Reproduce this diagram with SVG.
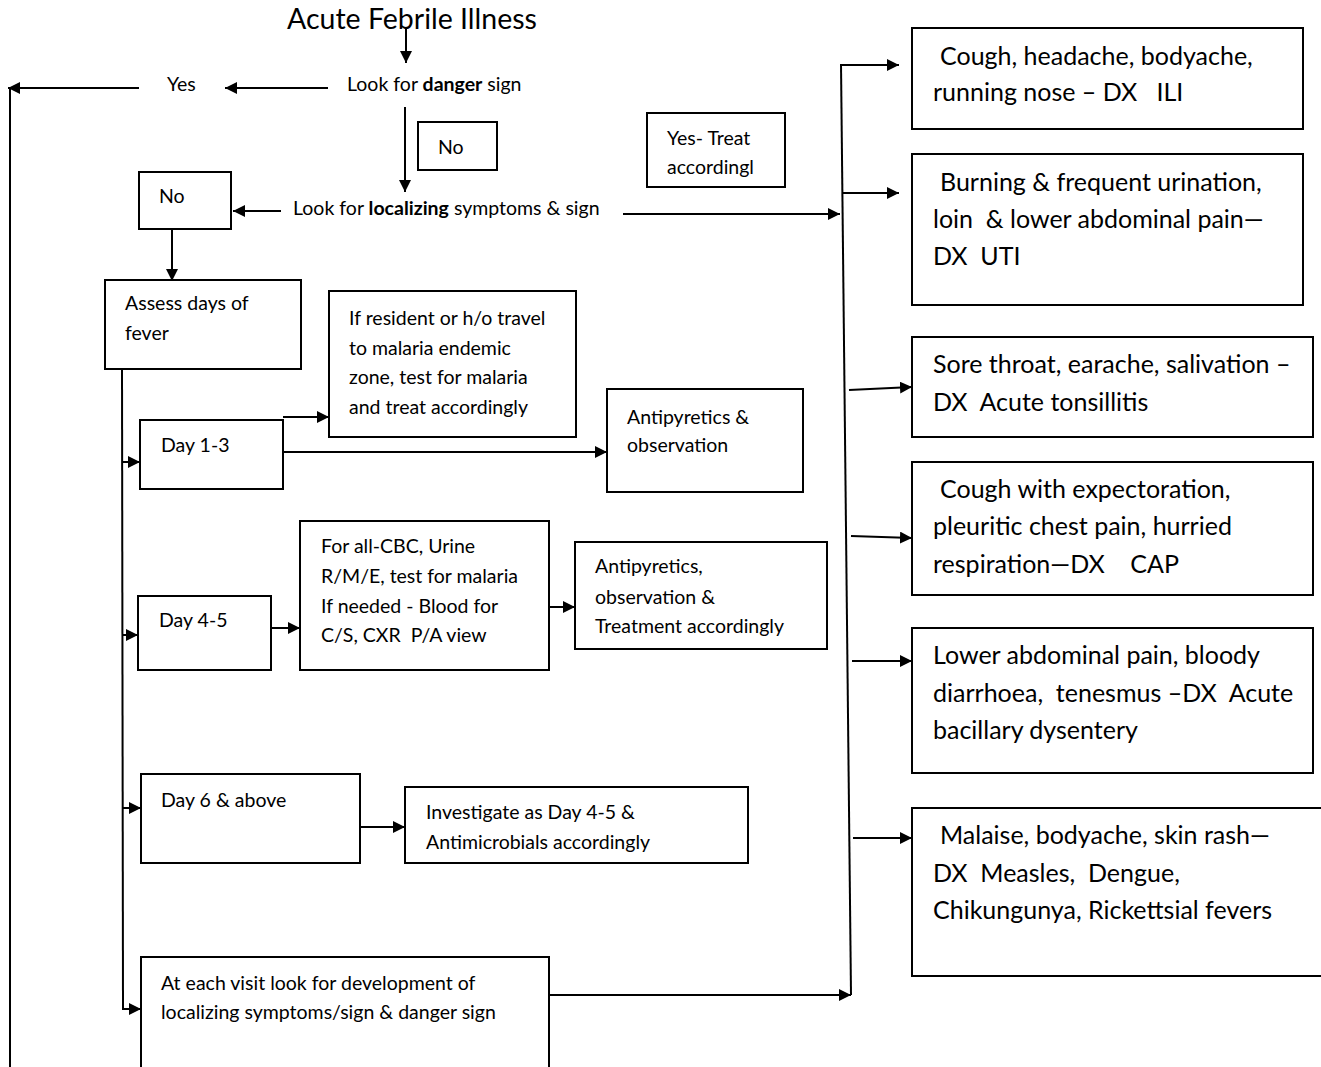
<svg xmlns="http://www.w3.org/2000/svg" width="1321" height="1067" viewBox="0 0 1321 1067">
<defs>
<marker id="ah" markerUnits="userSpaceOnUse" markerWidth="13" markerHeight="12" refX="12" refY="6" orient="auto">
<path d="M0,0 L12,6 L0,12 z" fill="#000"/>
</marker>
<style>
.box{fill:#fff;stroke:#000;stroke-width:2}
.t{font-family:Lato,"Liberation Sans",sans-serif;font-size:19.5px;fill:#000}
.tl{font-family:Lato,"Liberation Sans",sans-serif;font-size:25px;fill:#000}
.ti{font-family:Lato,"Liberation Sans",sans-serif;font-size:28.5px;fill:#000}
.c{fill:none;stroke:#000;stroke-width:2}
.a{fill:none;stroke:#000;stroke-width:2;marker-end:url(#ah)}
</style>
</defs>
<rect width="1321" height="1067" fill="#fff"/>

<g id="connectors">
<path class="a" d="M406,28 V63"/>
<path class="a" d="M328,88 H225"/>
<path class="a" d="M139,88 H8"/>
<path class="c" d="M10,88 V1067"/>
<path class="a" d="M405,107 V192"/>
<path class="a" d="M281,211 H233"/>
<path class="a" d="M623,214 H840"/>
<path class="a" d="M172,229 V281"/>
<path class="c" d="M122,369 L123,1010"/>
<path class="a" d="M122,462 H140"/>
<path class="a" d="M122,635 H138"/>
<path class="a" d="M123,808 H141"/>
<path class="a" d="M123,1009 H141"/>
<path class="a" d="M283,417 H329"/>
<path class="a" d="M283,452 H607"/>
<path class="a" d="M271,628 H300"/>
<path class="a" d="M549,607 H575"/>
<path class="a" d="M360,827 H405"/>
<path class="a" d="M549,995 H851"/>
<path class="c" d="M841,64 L851,995"/>
<path class="a" d="M841,65 H899"/>
<path class="a" d="M842,193 H899"/>
<path class="a" d="M849,390 L912,387"/>
<path class="a" d="M851,536 L912,538"/>
<path class="a" d="M852,661 H912"/>
<path class="a" d="M853,838 H912"/>
</g>

<g id="title"><text class="ti" x="287" y="29">Acute Febrile Illness</text></g>
<g id="danger"><text class="t" x="347" y="91">Look for <tspan font-weight="bold">danger</tspan> sign</text></g>
<g id="yes"><text class="t" x="167" y="91">Yes</text></g>
<g id="no1"><rect class="box" x="418" y="122" width="79" height="48"/><text class="t" x="438" y="154">No</text></g>
<g id="yestreat"><rect class="box" x="647" y="113" width="138" height="74"/><text class="t" x="667" y="145">Yes- Treat</text><text class="t" x="667" y="174">accordingl</text></g>
<g id="no2"><rect class="box" x="139" y="172" width="92" height="57"/><text class="t" x="159" y="203">No</text></g>
<g id="localizing"><text class="t" x="293" y="215">Look for <tspan font-weight="bold">localizing</tspan> symptoms &amp; sign</text></g>
<g id="assess"><rect class="box" x="105" y="280" width="196" height="89"/><text class="t" x="125" y="310">Assess days of</text><text class="t" x="125" y="340">fever</text></g>
<g id="malaria"><rect class="box" x="329" y="291" width="247" height="146"/><text class="t" x="349" y="325">If resident or h/o travel</text><text class="t" x="349" y="355">to malaria endemic</text><text class="t" x="349" y="384">zone, test for malaria</text><text class="t" x="349" y="414">and treat accordingly</text></g>
<g id="day13"><rect class="box" x="140" y="420" width="143" height="69"/><text class="t" x="161" y="452">Day 1-3</text></g>
<g id="antip1"><rect class="box" x="607" y="389" width="196" height="103"/><text class="t" x="627" y="424">Antipyretics &amp;</text><text class="t" x="627" y="452">observation</text></g>
<g id="day45"><rect class="box" x="138" y="596" width="133" height="74"/><text class="t" x="159" y="627">Day 4-5</text></g>
<g id="cbc"><rect class="box" x="300" y="521" width="249" height="149"/><text class="t" x="321" y="553">For all-CBC, Urine</text><text class="t" x="321" y="583">R/M/E, test for malaria</text><text class="t" x="321" y="613">If needed - Blood for</text><text class="t" x="321" y="642" xml:space="preserve">C/S, CXR  P/A view</text></g>
<g id="antip2"><rect class="box" x="575" y="542" width="252" height="107"/><text class="t" x="595" y="573">Antipyretics,</text><text class="t" x="595" y="604">observation &amp;</text><text class="t" x="595" y="633">Treatment accordingly</text></g>
<g id="day6"><rect class="box" x="141" y="774" width="219" height="89"/><text class="t" x="161" y="807">Day 6 &amp; above</text></g>
<g id="investigate"><rect class="box" x="405" y="787" width="343" height="76"/><text class="t" x="426" y="819">Investigate as Day 4-5 &amp;</text><text class="t" x="426" y="849">Antimicrobials accordingly</text></g>
<g id="eachvisit"><rect class="box" x="141" y="957" width="408" height="120"/><text class="t" x="161" y="990">At each visit look for development of</text><text class="t" x="161" y="1019">localizing symptoms/sign &amp; danger sign</text></g>

<g id="ili"><rect class="box" x="912" y="28" width="391" height="101"/><text class="tl" x="940" y="65">Cough, headache, bodyache,</text><text class="tl" x="933" y="101" xml:space="preserve">running nose – DX   ILI</text></g>
<g id="uti"><rect class="box" x="912" y="154" width="391" height="151"/><text class="tl" x="940" y="191">Burning &amp; frequent urination,</text><text class="tl" x="933" y="228" xml:space="preserve">loin  &amp; lower abdominal pain—</text><text class="tl" x="933" y="265" xml:space="preserve">DX  UTI</text></g>
<g id="tonsil"><rect class="box" x="912" y="337" width="401" height="100"/><text class="tl" x="933" y="373">Sore throat, earache, salivation –</text><text class="tl" x="933" y="411" xml:space="preserve">DX  Acute tonsillitis</text></g>
<g id="cap"><rect class="box" x="912" y="462" width="401" height="133"/><text class="tl" x="940" y="498">Cough with expectoration,</text><text class="tl" x="933" y="535">pleuritic chest pain, hurried</text><text class="tl" x="933" y="573" xml:space="preserve">respiration—DX    CAP</text></g>
<g id="dysentery"><rect class="box" x="912" y="628" width="401" height="145"/><text class="tl" x="933" y="664">Lower abdominal pain, bloody</text><text class="tl" x="933" y="702" xml:space="preserve">diarrhoea,  tenesmus –DX  Acute</text><text class="tl" x="933" y="739">bacillary dysentery</text></g>
<g id="fevers"><path class="c" d="M1321,808 H912 V976 H1321"/><text class="tl" x="940" y="844">Malaise, bodyache, skin rash—</text><text class="tl" x="933" y="882" xml:space="preserve">DX  Measles,  Dengue,</text><text class="tl" x="933" y="919">Chikungunya, Rickettsial fevers</text></g>
</svg>
